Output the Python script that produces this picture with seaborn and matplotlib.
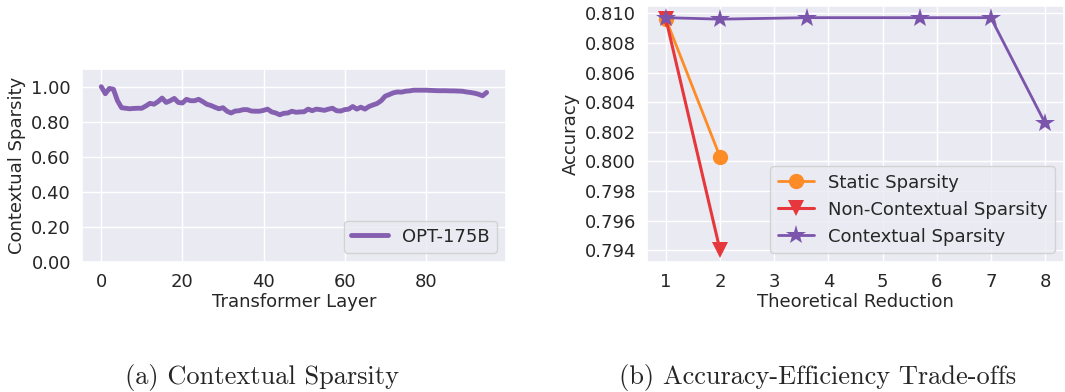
import matplotlib
matplotlib.use("Agg")
import matplotlib.pyplot as plt
import numpy as np
import pandas as pd
import seaborn as sns

# Per-layer contextual sparsity of OPT-175B
layers = list(range(96))
sparsity = [
    1.000, 0.960, 0.990, 0.985, 0.920, 0.880, 0.877, 0.874, 0.876, 0.877,
    0.877, 0.890, 0.905, 0.900, 0.915, 0.935, 0.910, 0.920, 0.933, 0.910,
    0.907, 0.928, 0.920, 0.920, 0.928, 0.915, 0.900, 0.893, 0.883, 0.874,
    0.880, 0.860, 0.850, 0.861, 0.863, 0.869, 0.869, 0.861, 0.860, 0.860,
    0.865, 0.872, 0.856, 0.850, 0.840, 0.848, 0.850, 0.860, 0.854, 0.856,
    0.857, 0.872, 0.863, 0.872, 0.869, 0.865, 0.872, 0.877, 0.863, 0.861,
    0.869, 0.872, 0.887, 0.872, 0.883, 0.872, 0.887, 0.896, 0.904, 0.920,
    0.946, 0.955, 0.965, 0.970, 0.969, 0.974, 0.976, 0.980, 0.980, 0.980,
    0.980, 0.979, 0.978, 0.977, 0.977, 0.977, 0.976, 0.976, 0.975, 0.974,
    0.970, 0.967, 0.963, 0.957, 0.948, 0.967,
]

# Accuracy vs. theoretical reduction
static_x = [1, 2]
static_acc = [0.8096, 0.8003]
noncontext_x = [1, 2]
noncontext_acc = [0.8096, 0.7940]
context_x = [1, 2, 3.6, 5.7, 7, 8]
context_acc = [0.8097, 0.8096, 0.8097, 0.8097, 0.8097, 0.8026]

sns.set_theme(style="darkgrid")
plt.rcParams["font.family"] = ["DejaVu Sans"]

fig = plt.figure(figsize=(10.65, 3.92), dpi=100)
ax1 = fig.add_axes([0.077, 0.3316, 0.398, 0.492])
ax2 = fig.add_axes([0.6075, 0.3316, 0.3915, 0.653])

fs = 13
purple_line = "#8660b0"

df1 = pd.DataFrame({"layer": layers, "sparsity": sparsity})
sns.lineplot(data=df1, x="layer", y="sparsity", ax=ax1, color=purple_line,
             linewidth=3.5, label="OPT-175B")
ax1.set_ylim(0, 1.1)
ax1.set_yticks([0, 0.2, 0.4, 0.6, 0.8, 1.0])
ax1.yaxis.set_major_formatter(matplotlib.ticker.FormatStrFormatter("%.2f"))
ax1.set_xticks([0, 20, 40, 60, 80])
ax1.set_xlabel("Transformer Layer", fontsize=fs, labelpad=1)
ax1.set_ylabel("Contextual Sparsity", fontsize=fs, labelpad=4)
ax1.tick_params(labelsize=fs, pad=2)
ax1.legend(loc="lower right", fontsize=fs)

orange = "#fd8c26"
red = "#e6373c"
purple = "#7b55ab"

sns.lineplot(x=static_x, y=static_acc, ax=ax2, color=orange, marker="o",
             markersize=11, markeredgewidth=0, linewidth=2, label="Static Sparsity")
sns.lineplot(x=noncontext_x, y=noncontext_acc, ax=ax2, color=red, marker="v",
             markersize=11, markeredgewidth=0, linewidth=2.2,
             label="Non-Contextual Sparsity")
sns.lineplot(x=context_x, y=context_acc, ax=ax2, color=purple, marker="*",
             markersize=15, markeredgewidth=0, linewidth=2,
             label="Contextual Sparsity")
ax2.set_xticks(range(1, 9))
ax2.set_yticks([0.794, 0.796, 0.798, 0.800, 0.802, 0.804, 0.806, 0.808, 0.810])
ax2.yaxis.set_major_formatter(matplotlib.ticker.FormatStrFormatter("%.3f"))
ax2.set_xlabel("Theoretical Reduction", fontsize=fs, labelpad=1)
ax2.set_ylabel("Accuracy", fontsize=fs, labelpad=3)
ax2.tick_params(labelsize=fs, pad=2)
ax2.legend(loc="lower right", fontsize=fs)

fig.text(0.246, 0.038, "(a) Contextual Sparsity", ha="center", va="center",
         fontsize=19, family="cmr10")
fig.text(0.768, 0.038, "(b) Accuracy-Efficiency Trade-offs", ha="center",
         va="center", fontsize=19, family="cmr10")

fig.savefig("out.png", dpi=100)
